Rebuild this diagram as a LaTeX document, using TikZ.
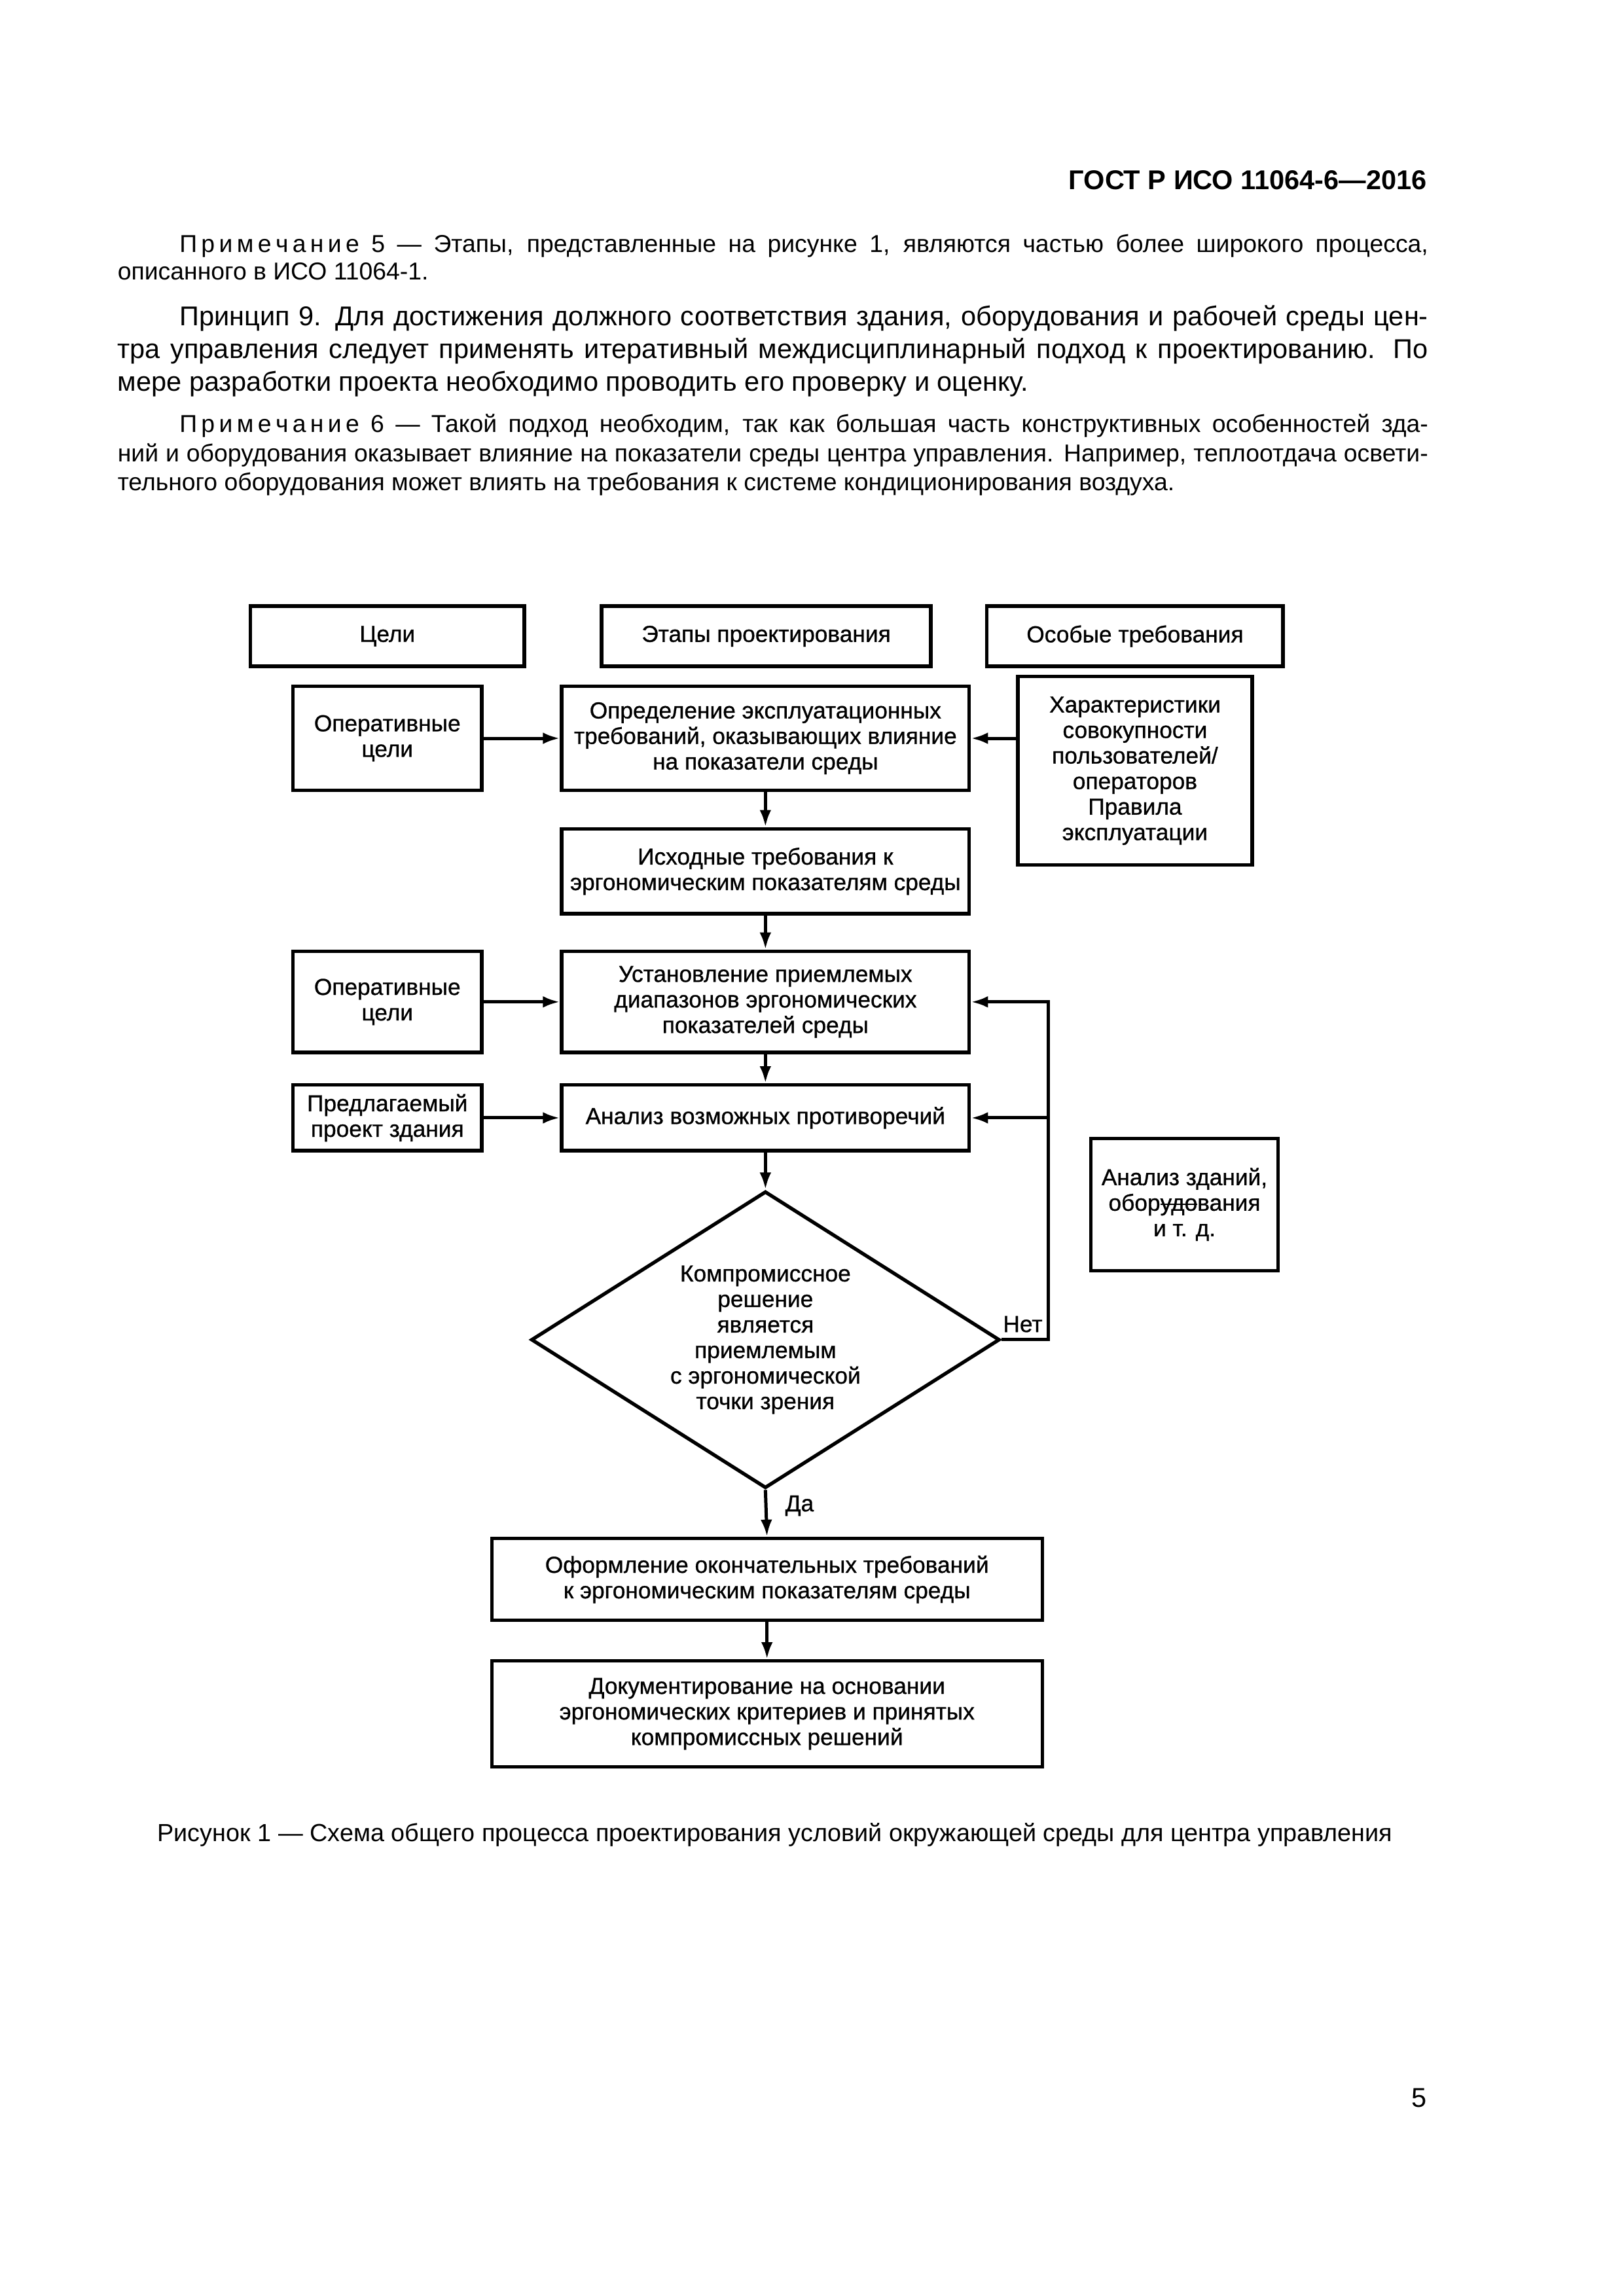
\documentclass[tikz,border=0pt]{standalone}
\usepackage{fontspec}
\setmainfont{Liberation Sans}
\newfontfamily\shemfont[FakeBold=0.8]{Liberation Sans}
\usetikzlibrary{shapes.geometric,arrows.meta}

\hyphenpenalty=10000
\tolerance=9999

% vrazryadku i zacherknutyj tekst
\newcommand{\prim}{П\kern.17em р\kern.17em и\kern.17em м\kern.17em е\kern.17em ч\kern.17em а\kern.17em н\kern.17em и\kern.17em е}
\newcommand{\zacherk}[1]{\setbox0\hbox{#1}\rlap{\rule[0.25em]{\wd0}{0.07em}}\box0}

\tikzset{
  blok/.style={draw, line width=1.3pt, align=center, inner sep=2pt,
    font=\shemfont\fontsize{8.5}{9.4}\selectfont},
  strelka/.style={line width=1.2pt, -{Latex[length=2.2mm,width=1.5mm]}},
  abzac/.style={anchor=base west, inner sep=0pt, text width=16.95cm, align=justify}
}

\begin{document}
\begin{tikzpicture}
\useasboundingbox (0,0) rectangle (21,-29.7);
\fill[white] (0,0) rectangle (21,-29.7);

% Shapka i tekst stranicy
\node[anchor=base east, inner sep=0pt, font=\bfseries\fontsize{10}{12}\selectfont] (shapka) at (18.46,-2.45) {ГОСТ Р ИСО 11064-6—2016};
\node[abzac, font=\fontsize{9}{10.3}\selectfont] (prim5) at (1.515,-3.26)
  {\hspace*{0.8cm}\prim\ 5 — Этапы, представленные на рисунке 1, являются частью более широкого процесса,\linebreak
   описанного в ИСО 11064-1.};
\node[abzac, font=\fontsize{10}{12.1}\selectfont] (princ9) at (1.515,-4.21)
  {\hspace*{0.8cm}Принцип 9. Для достижения должного соответствия здания, оборудования и рабочей среды цен-\linebreak
   тра управления следует применять итеративный междисциплинарный подход к проектированию. По\linebreak
   мере разработки проекта необходимо проводить его проверку и оценку.};
\node[abzac, font=\fontsize{9}{10.8}\selectfont] (prim6) at (1.515,-5.59)
  {\hspace*{0.8cm}\prim\ 6 — Такой подход необходим, так как большая часть конструктивных особенностей зда-\linebreak
   ний и оборудования оказывает влияние на показатели среды центра управления. Например, теплоотдача освети-\linebreak
   тельного оборудования может влиять на требования к системе кондиционирования воздуха.};

% Zagolovki
\node[blok, minimum width=3.54cm, minimum height=0.78cm] (celi) at (5.01,-8.23) {Цели};
\node[blok, minimum width=4.26cm, minimum height=0.78cm] (etapy) at (9.91,-8.23) {Этапы проектирования};
\node[blok, minimum width=3.83cm, minimum height=0.78cm] (osob) at (14.68,-8.23) {Особые требования};

% Bloki
\node[blok, minimum width=2.44cm, minimum height=1.35cm] (oper1) at (5.01,-9.55) {Оперативные\\цели};
\node[blok, minimum width=5.27cm, minimum height=1.35cm] (opred) at (9.9,-9.55)
  {Определение эксплуатационных\\требований, оказывающих влияние\\на показатели среды};
\node[blok, minimum width=3.03cm, minimum height=2.44cm] (harakt) at (14.68,-9.97)
  {Характеристики\\совокупности\\пользователей/\\операторов\\Правила\\эксплуатации};
\node[blok, minimum width=5.27cm, minimum height=1.1cm] (ishod) at (9.9,-11.27)
  {Исходные требования к\\эргономическим показателям среды};
\node[blok, minimum width=2.44cm, minimum height=1.31cm] (oper2) at (5.01,-12.96) {Оперативные\\цели};
\node[blok, minimum width=5.27cm, minimum height=1.31cm] (ustan) at (9.9,-12.96)
  {Установление приемлемых\\диапазонов эргономических\\показателей среды};
\node[blok, minimum width=2.44cm, minimum height=0.85cm] (predl) at (5.01,-14.46) {Предлагаемый\\проект здания};
\node[blok, minimum width=5.27cm, minimum height=0.85cm] (analiz) at (9.9,-14.46) {Анализ возможных противоречий};
\node[blok, minimum width=2.42cm, minimum height=1.71cm] (zdan) at (15.32,-15.58)
  {Анализ зданий,\\обор\zacherk{удо}вания\\и т. д.};
\node[blok, shape=diamond, aspect=1.58, minimum width=6.06cm, minimum height=3.84cm, inner sep=0pt] (kompr) at (9.9,-17.33)
  {Компромиссное\\решение\\является\\приемлемым\\с эргономической\\точки зрения};
\node[blok, minimum width=7.12cm, minimum height=1.06cm] (oform) at (9.92,-20.43)
  {Оформление окончательных требований\\к эргономическим показателям среды};
\node[blok, minimum width=7.12cm, minimum height=1.37cm] (dokum) at (9.92,-22.17)
  {Документирование на основании\\эргономических критериев и принятых\\компромиссных решений};

% Strelki
\coordinate (povorot) at (13.56,-17.33);
\draw[strelka] (oper1) -- (opred);
\draw[strelka] (opred.east -| harakt.west) -- (opred.east);
\draw[strelka] (opred) -- (ishod);
\draw[strelka] (ishod) -- (ustan);
\draw[strelka] (oper2) -- (ustan);
\draw[strelka] (ustan) -- (analiz);
\draw[strelka] (predl) -- (analiz);
\draw[strelka] (analiz) -- (kompr);
\draw[strelka] (kompr.east) -- (povorot) |- (ustan.east);
\draw[strelka] (povorot |- analiz.east) -- (analiz.east);
\draw[strelka] (kompr.south) -- (oform.north);
\draw[strelka] (oform) -- (dokum);
\node[font=\shemfont\fontsize{8.5}{9.4}\selectfont, anchor=base east, inner sep=0pt] (net) at (13.49,-17.23) {Нет};
\node[font=\shemfont\fontsize{8.5}{9.4}\selectfont, anchor=base west, inner sep=0pt] (da) at (10.15,-19.55) {Да};

% Podpis i nomer stranicy
\node[anchor=base west, inner sep=0pt, font=\fontsize{9.1}{11}\selectfont] (podpis) at (2.03,-23.82)
  {Рисунок 1 — Схема общего процесса проектирования условий окружающей среды для центра управления};
\node[anchor=base east, inner sep=0pt, font=\fontsize{10}{12}\selectfont] (nomer) at (18.46,-27.26) {5};
\end{tikzpicture}
\end{document}
